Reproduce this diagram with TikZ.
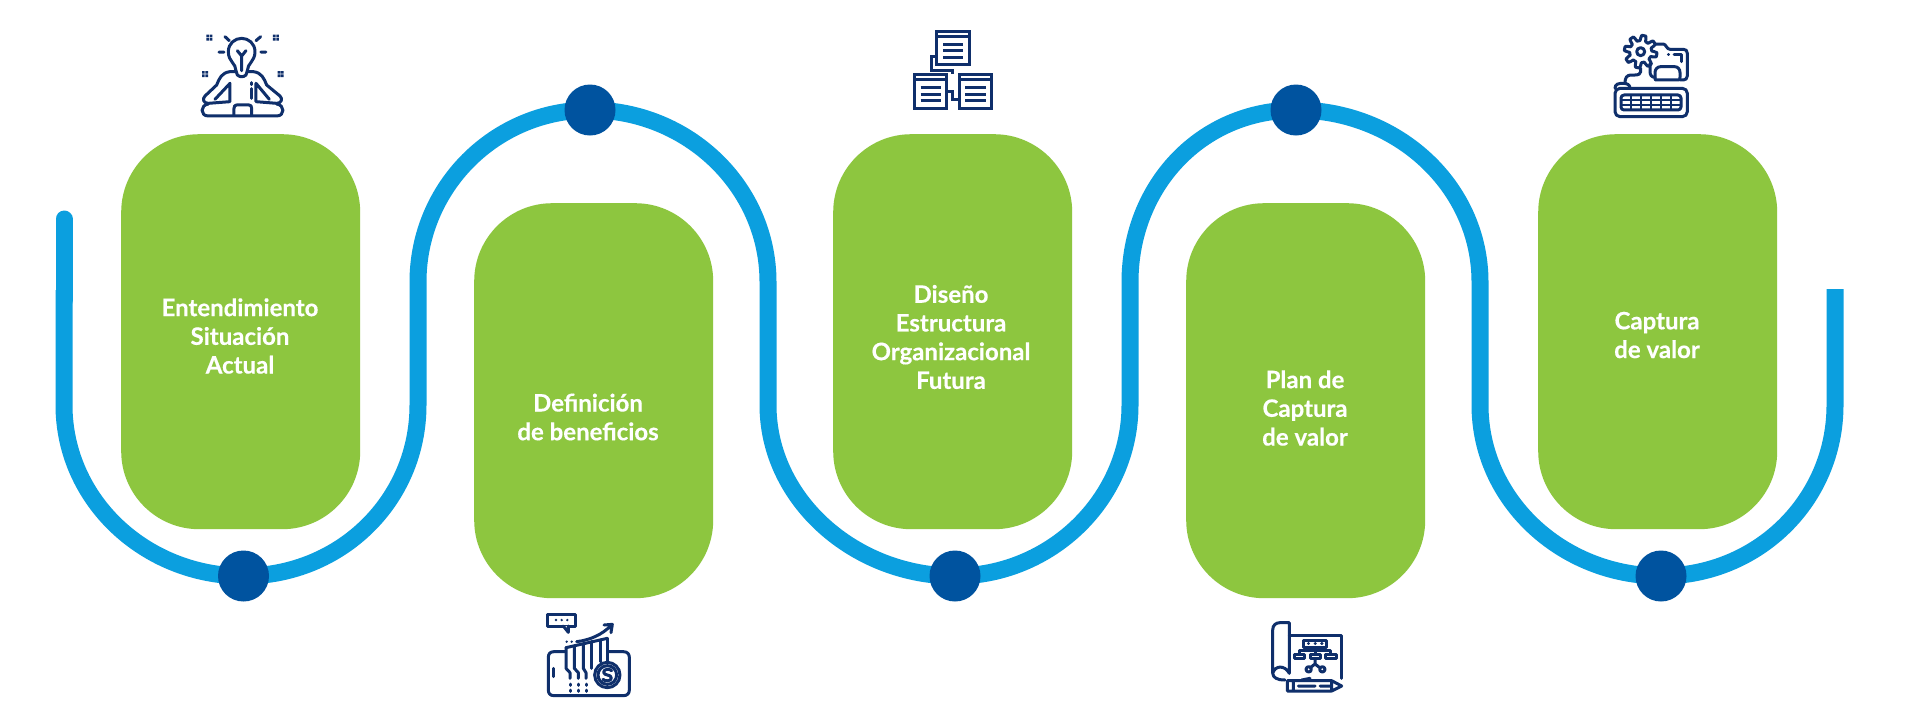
\documentclass[tikz,border=0pt]{standalone}
\usepackage{fontspec}
\setmainfont{Lato}[BoldFont={Lato Bold},BoldFeatures={FakeBold=0.4}]
\definecolor{gr}{HTML}{8DC63F}
\definecolor{ln}{HTML}{0B9FDF}
\definecolor{dt}{HTML}{00539F}
\definecolor{nv}{HTML}{0F2F6B}
\tikzset{
 greenbox/.style={fill=gr,rounded corners=78pt,minimum width=239pt,minimum height=395pt,inner sep=0pt,anchor=north west},
 stepdot/.style={circle,fill=dt,minimum size=51pt,inner sep=0pt},
 lab/.style={text=white,align=center,font=\fontsize{24}{28.7}\selectfont\bfseries,inner sep=0pt},
 track/.style={draw=ln,line width=17pt},
 ic/.style={draw=nv,line width=3pt,line cap=round,line join=round},
 icon/.style={shift={#1},x=0.3333pt,y=-0.3333pt},
}
\begin{document}
\begin{tikzpicture}[x=1pt,y=-1pt]
\useasboundingbox (0,0) rectangle (1921,716);
\fill[white] (0,0) rectangle (1921,716);
% track
\coordinate (s) at (64,219);
\coordinate (e) at (1835,289);
\coordinate (l1) at (64,405);
\coordinate (u1a) at (418,405);
\coordinate (u1b) at (418,282);
\coordinate (u2a) at (768,282);
\coordinate (u2b) at (768,405);
\coordinate (u3a) at (1130,405);
\coordinate (u3b) at (1130,282);
\coordinate (u4a) at (1480,282);
\coordinate (u4b) at (1480,405);
\coordinate (u5a) at (1835,405);
\coordinate (p1) at (243.5,576);
\coordinate (p2) at (590,110);
\coordinate (p3) at (955,576);
\coordinate (p4) at (1296,110);
\coordinate (p5) at (1661,576);
\draw[track,line cap=round] (s) -- (64,300);
\draw[track] (64,290) -- (l1) .. controls (64,500) and (145,576) .. (p1)
  .. controls (341,576) and (418,500) .. (u1a) -- (u1b)
  .. controls (418,187) and (495,110) .. (p2)
  .. controls (688,110) and (768,187) .. (u2a) -- (u2b)
  .. controls (768,500) and (855,576) .. (p3)
  .. controls (1050,576) and (1130,500) .. (u3a) -- (u3b)
  .. controls (1130,187) and (1200,110) .. (p4)
  .. controls (1398,110) and (1480,187) .. (u4a) -- (u4b)
  .. controls (1480,500) and (1562,576) .. (p5)
  .. controls (1758,576) and (1835,500) .. (u5a) -- (e);
\node[stepdot] (d1) at (p1) {};
\node[stepdot] (d2) at (p2) {};
\node[stepdot] (d3) at (p3) {};
\node[stepdot] (d4) at (p4) {};
\node[stepdot] (d5) at (p5) {};
% boxes
\node[greenbox] (b1) at (121,134) {};
\node[greenbox] (b2) at (474,203) {};
\node[greenbox] (b3) at (833,134) {};
\node[greenbox] (b4) at (1186,203) {};
\node[greenbox] (b5) at (1538,134) {};
\node[lab] (t1) at (240,336) {Entendimiento\\Situación\\Actual};
\node[lab] (t2) at (588,417) {Definición\\de beneficios};
\node[lab] (t3) at (951,337) {Diseño\\Estructura\\Organizacional\\Futura};
\node[lab] (t4) at (1305,408) {Plan de\\Captura\\de valor};
\node[lab] (t5) at (1657,335) {Captura\\de valor};
% icon 1
\begin{scope}[icon={(180,20)}]
\draw[ic] (168,152) .. controls (168,130) and (145,125) .. (145,95) .. controls (145,70) and (165,55) .. (185,55) .. controls (205,55) and (225,70) .. (225,95) .. controls (225,125) and (202,130) .. (202,152) -- (198,165) .. controls (190,172) and (180,172) .. (172,165) -- cycle;
\draw[ic] (172,92) -- (185,108) -- (198,92) (185,108) -- (185,152);
\draw[ic] (135,50) -- (148,62) (242,50) -- (228,62) (117,96) -- (132,96) (243,96) -- (258,96);
\foreach \p in {(88,53),(288,53),(75,162),(302,162)}
  \fill[nv] \p +(-9,-9) rectangle +(-1,-1) +(1,-9) rectangle +(9,-1) +(-9,1) rectangle +(-1,9) +(1,1) rectangle +(9,9);
\draw[ic] (168,155) -- (150,155) .. controls (125,158) and (118,175) .. (110,195) -- (75,228) .. controls (65,238) and (72,250) .. (85,250) -- (150,245) -- (150,190) -- (105,238);
\draw[ic] (202,155) -- (220,155) .. controls (245,158) and (252,175) .. (260,195) -- (300,228) .. controls (310,238) and (303,250) .. (290,250) -- (228,245) -- (228,190) -- (268,238);
\draw[ic] (85,252) .. controls (60,255) and (60,288) .. (85,288) -- (290,288) .. controls (315,288) and (315,255) .. (290,252);
\draw[ic] (162,286) -- (162,265) .. controls (162,258) and (165,255) .. (170,255) -- (207,255) .. controls (212,255) and (215,258) .. (215,265) -- (215,286);
\draw[ic] (216,188) -- (216,194) (216,206) -- (216,235);
\end{scope}
% icon 2
\begin{scope}[icon={(530,600)}]
\draw[ic] (52,42) rectangle (135,78);
\draw[ic,fill=white] (100,78) -- (115,97) -- (115,78);
\fill[nv] (78,60) circle (4) (95,60) circle (4) (112,60) circle (4);
\draw[ic] (140,125) .. controls (180,120) and (215,105) .. (245,75) (222,75) -- (247,73) -- (243,98);
\fill[nv] (110,125) circle (4) (125,125) circle (4);
\draw[ic] (105,155) -- (72,155) .. controls (60,155) and (55,162) .. (55,172) -- (55,270) .. controls (55,280) and (60,287) .. (72,287) -- (280,287) .. controls (292,287) and (298,280) .. (298,270) -- (298,172) .. controls (298,162) and (292,155) .. (280,155) -- (235,155);
\draw[ic] (70,205) -- (70,230);
\draw[ic] (108,143) -- (232,115);
\draw[ic] (108,143) -- (108,205) -- (120,218) -- (120,235);
\draw[ic] (133,137) -- (133,205) -- (145,218) -- (145,235);
\draw[ic] (160,131) -- (160,205) -- (168,218) -- (168,235);
\draw[ic] (185,125) -- (185,205);
\draw[ic] (210,120) -- (210,185);
\draw[ic] (232,115) -- (232,185);
\draw[ic] (120,252) -- (120,256) (120,270) -- (120,274) (145,252) -- (145,256) (145,270) -- (145,274) (168,252) -- (168,256) (168,270) -- (168,274);
\draw[ic,fill=white] (232,225) circle (38);
\draw[ic] (232,225) circle (28);
\draw[ic] (245,212) .. controls (238,205) and (220,207) .. (221,217) .. controls (222,228) and (244,222) .. (244,234) .. controls (244,244) and (225,245) .. (219,238);
\end{scope}
% icon 3
\begin{scope}[icon={(900,20)}]
\draw[ic,line cap=butt,line join=miter] (110,33) rectangle (208,132) (110,48) -- (208,48) (130,72) -- (190,72) (130,92) -- (190,92) (130,112) -- (190,112);
\draw[ic,line cap=butt,line join=miter] (43,163) rectangle (140,265) (43,180) -- (140,180) (62,203) -- (122,203) (62,223) -- (122,223) (62,243) -- (122,243);
\draw[ic,line cap=butt,line join=miter] (177,163) rectangle (275,265) (177,180) -- (275,180) (195,203) -- (258,203) (195,223) -- (258,223) (195,243) -- (258,243);
\draw[ic,line cap=butt,line join=miter] (110,110) -- (93,110) -- (93,150) -- (157,150) -- (157,163) (140,215) -- (157,215) -- (157,240) -- (177,240);
\end{scope}
% icon 4
\begin{scope}[icon={(1260,610)}]
\draw[ic] (38,190) -- (38,60) .. controls (38,45) and (48,38) .. (60,38) -- (88,38) -- (88,190) .. controls (75,165) and (45,165) .. (38,190) .. controls (40,203) and (50,210) .. (75,210);
\draw[ic] (88,75) -- (245,75) -- (245,205);
\draw[ic] (130,90) rectangle (200,112);
\draw[ic] (145,101) -- (146,101) (165,101) -- (166,101) (185,101) -- (186,101);
\draw[ic] (165,112) -- (165,122) (118,132) -- (118,122) -- (212,122) -- (212,132) (165,122) -- (165,132);
\draw[ic] (103,132) rectangle (133,145) (150,132) rectangle (180,145) (197,132) rectangle (228,145);
\draw[ic] (165,145) -- (165,162) (152,172) -- (165,162) -- (178,172);
\draw[ic] (146,178) circle (8) (187,178) circle (8);
\draw[ic] (150,205) -- (125,210);
\draw[ic] (82,212) -- (215,212) -- (245,228) -- (215,243) -- (82,243) -- cycle (100,212) -- (100,243) (115,228) -- (165,228) (180,228) -- (215,228) (215,212) -- (215,243);
\end{scope}
% icon 5
\begin{scope}[icon={(1600,20)}]
\draw[ic] plot[domain=0:360,samples=97] ({122+(41+8*max(-1,min(1,2*sin(8*\x))))*cos(\x)},{95+(41+8*max(-1,min(1,2*sin(8*\x))))*sin(\x)}) -- cycle;
\draw[ic] (122,95) circle (12);
\draw[ic] (168,72) -- (190,72) .. controls (198,72) and (200,88) .. (210,88) -- (250,88) .. controls (258,88) and (262,92) .. (262,100) -- (262,168) .. controls (262,176) and (256,180) .. (250,180) -- (240,180);
\draw[ic] (205,102) -- (206,102) (222,102) -- (245,102) -- (245,125);
\draw[ic] (150,130) -- (150,155) .. controls (150,165) and (155,172) .. (165,172);
\draw[ic] (168,180) .. controls (165,180) and (165,178) .. (165,172) -- (165,158) .. controls (165,148) and (172,140) .. (182,140) -- (224,140) .. controls (234,140) and (240,148) .. (240,158) -- (240,172) .. controls (240,178) and (238,180) .. (235,180) -- cycle;
\draw[ic] (122,145) -- (122,155) .. controls (122,162) and (115,165) .. (105,165) -- (92,165) .. controls (80,165) and (75,175) .. (75,188);
\draw[ic] (45,205) .. controls (45,192) and (55,190) .. (70,190) .. controls (82,190) and (90,195) .. (90,205);
\draw[ic,rounded corners=5pt] (45,205) -- (262,205) -- (262,290) -- (45,290) -- cycle;
\draw[ic,rounded corners=3pt] (63,225) rectangle (243,270);
\draw[ic,line width=2pt] (63,240) -- (243,240) (63,255) -- (243,255) (92,225) -- (92,270) (122,225) -- (122,270) (152,225) -- (152,270) (182,225) -- (182,270) (212,225) -- (212,270);
\end{scope}
\end{tikzpicture}
\end{document}
